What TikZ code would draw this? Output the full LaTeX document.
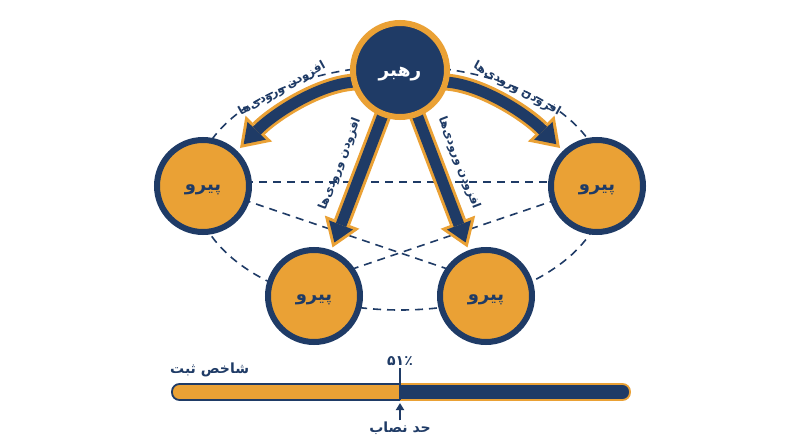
\documentclass[tikz,border=0pt]{standalone}
\usepackage{fontspec}
\usetikzlibrary{arrows.meta,calc}
\TeXXeTstate=1
\newfontfamily\fa[Script=Arabic]{DejaVu Sans}
\definecolor{navy}{HTML}{1F3B66}
\definecolor{gold}{HTML}{EAA135}
\newcommand{\lowtext}[1]{\raisebox{-4pt}[\height][\depth]{\beginR #1\endR}}
\tikzset{
  leader/.style={circle, minimum size=94pt, inner sep=0pt, fill=navy, draw=gold, line width=6pt, text=white, font=\fa\bfseries\fontsize{18.5}{22}\selectfont},
  follower/.style={circle, minimum size=92pt, inner sep=0pt, fill=gold, draw=navy, line width=6pt, text=navy, font=\fa\bfseries\fontsize{18}{22}\selectfont},
  link/.style={navy, line width=1.6pt, dash pattern=on 8pt off 6pt},
  lbl/.style={text=navy, inner sep=0pt, font=\fa\bfseries\fontsize{11.8}{14}\selectfont},
  arrout/.style={gold, line width=17pt, -{Triangle[length=27pt,width=37pt,line width=0pt]}},
  arrin/.style={navy, line width=11pt, shorten >=5.3pt, -{Triangle[length=18.7pt,width=25.6pt,line width=0pt]}},
  bartext/.style={text=navy, inner sep=0pt, font=\fa\bfseries\fontsize{14}{16}\selectfont}
}
\begin{document}
\begin{tikzpicture}[x=1pt,y=-1pt]
\fill[white] (0,0) rectangle (800,447);
\useasboundingbox (0,0) rectangle (800,447);

% positions
\coordinate (pL) at (400,70);
\coordinate (p1) at (203,186);
\coordinate (p2) at (597,186);
\coordinate (p3) at (314,296);
\coordinate (p4) at (486,296);

% dashed structure
\draw[link] (400,188) ellipse [x radius=205, y radius=122];
\draw[link] ($(p1)+(0,-4)$) -- ($(p2)+(0,-4)$);
\draw[link] (p1) -- ($(p4)+(0,-14)$);
\draw[link] (p2) -- ($(p3)+(0,-14)$);

% arrow end points
\coordinate (s1) at ($(pL)+(-45,12)$);
\coordinate (t1) at ($(p1)+(37,-38)$);
\coordinate (s2) at ($(pL)+(45,12)$);
\coordinate (t2) at ($(p2)+(-37,-38)$);
\coordinate (s3) at ($(pL)!46pt!(p3)$);
\coordinate (t3) at ($(p3)!52pt!(pL)$);
\coordinate (s4) at ($(pL)!46pt!(p4)$);
\coordinate (t4) at ($(p4)!52pt!(pL)$);

% arrows
\draw[arrout] (s1) .. controls (318,84) and (272,115) .. (t1);
\draw[arrin]  (s1) .. controls (318,84) and (272,115) .. (t1);
\draw[arrout] (s2) .. controls (482,84) and (528,115) .. (t2);
\draw[arrin]  (s2) .. controls (482,84) and (528,115) .. (t2);
\draw[arrout] (s3) -- (t3);
\draw[arrin]  (s3) -- (t3);
\draw[arrout] (s4) -- (t4);
\draw[arrin]  (s4) -- (t4);

% arrow labels
\node[lbl, rotate=29]  (a1) at (282,89)  {\beginR افزودن ورودی‌ها\endR};
\node[lbl, rotate=-29] (a2) at (517,89)  {\beginR افزودن ورودی‌ها\endR};
\node[lbl, rotate=69]  (a3) at (340,164) {\beginR افزودن ورودی‌ها\endR};
\node[lbl, rotate=-69] (a4) at (459,163) {\beginR افزودن ورودی‌ها\endR};

% circles
\node[leader]   (L)  at (pL) {\lowtext{رهبر}};
\node[follower] (F1) at (p1) {\lowtext{پیرو}};
\node[follower] (F2) at (p2) {\lowtext{پیرو}};
\node[follower] (F3) at (p3) {\lowtext{پیرو}};
\node[follower] (F4) at (p4) {\lowtext{پیرو}};

% bar
\begin{scope}
  \clip (150,370) rectangle (400,415);
  \draw[navy, fill=gold, line width=1.8pt, rounded corners=7.5pt] (172,384) rectangle (640,400);
\end{scope}
\begin{scope}
  \clip (400,370) rectangle (660,415);
  \draw[gold, fill=navy, line width=1.8pt, rounded corners=7.5pt] (160,384) rectangle (630,400);
\end{scope}
\node[bartext, anchor=west] (idx) at (170,370) {\beginR شاخص ثبت\endR};
\node[bartext] (pct) at (400,361) {۵۱٪};
\node[bartext] (quo) at (400,428) {\beginR حد نصاب\endR};
\coordinate (divtop) at (400,368);
\coordinate (divbot) at (400,400);
\draw[navy, line width=2.4pt] (divtop) -- (divbot);
\draw[navy, line width=2pt, -{Triangle[length=7pt,width=8pt]}] (quo.north) ++(0,-1) -- (400,403);
\end{tikzpicture}
\end{document}
